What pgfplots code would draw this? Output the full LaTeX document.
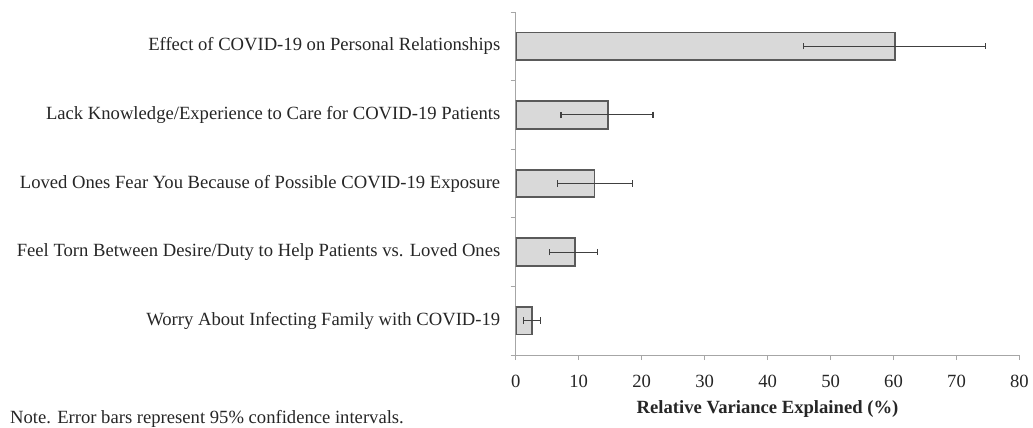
\documentclass[border=0pt]{standalone}
\usepackage{fontspec}
\setmainfont{Liberation Serif}
\usepackage{pgfplots}
\pgfplotsset{compat=1.18}
\definecolor{barfill}{HTML}{D9D9D9}
\definecolor{baredge}{HTML}{5A5A5A}
\definecolor{axisgray}{HTML}{A6A6A6}
\definecolor{errcol}{HTML}{404040}
\definecolor{textcol}{HTML}{262626}
\begin{document}
\fontsize{18.7}{22}\selectfont
\begin{tikzpicture}
\useasboundingbox (-515.7bp,-73bp) rectangle (517.3bp,355bp);
\begin{axis}[
  at={(0,0)}, anchor=south west, scale only axis,
  width=503.8bp, height=343bp,
  xmin=0, xmax=80, ymin=-0.5, ymax=4.5,
  axis x line=bottom, axis y line=left,
  axis line style={-, draw=axisgray, line width=0.8pt},
  xtick={0,10,...,80},
  ytick={0,1,2,3,4},
  yticklabels={Worry About Infecting Family with COVID-19,
    Feel Torn Between Desire/Duty to Help Patients vs. Loved Ones,
    Loved Ones Fear You Because of Possible COVID-19 Exposure,
    Lack Knowledge/Experience to Care for COVID-19 Patients,
    Effect of COVID-19 on Personal Relationships},
  minor ytick={-0.5,0.5,...,4.5},
  tick align=outside,
  major tick length=5bp, minor tick length=5bp,
  tick style={draw=axisgray, line width=0.8pt},
  major y tick style={draw=none},
  xticklabel style={yshift=-9bp},
  yticklabel style={xshift=-4bp},
  /pgf/number format/assume math mode=true,
  ticklabel style={text=textcol},
  xbar, bar width=0.4,
]
\addplot[xbar, fill=barfill, draw=baredge, line width=1.8bp,
  error bars/.cd, x dir=both, x explicit,
  error bar style={draw=errcol, line width=1bp},
  error mark=|,
  error mark options={draw=errcol, mark size=3.2bp, line width=1.2bp}]
coordinates {
  (2.6,0)  += (1.4,0)  -= (1.3,0)
  (9.4,1)  += (3.6,0)  -= (4.0,0)
  (12.5,2) += (6.0,0)  -= (5.9,0)
  (14.6,3) += (7.2,0)  -= (7.4,0)
  (60.2,4) += (14.4,0) -= (14.5,0)
};
\end{axis}
\node[text=textcol, font=\bfseries] at (251.8bp,-54bp) {Relative Variance Explained (\%)};
\node[text=textcol, anchor=base west, inner sep=0pt] at (-505.7bp,-68.5bp) {Note. Error bars represent 95\% confidence intervals.};
\end{tikzpicture}
\end{document}
